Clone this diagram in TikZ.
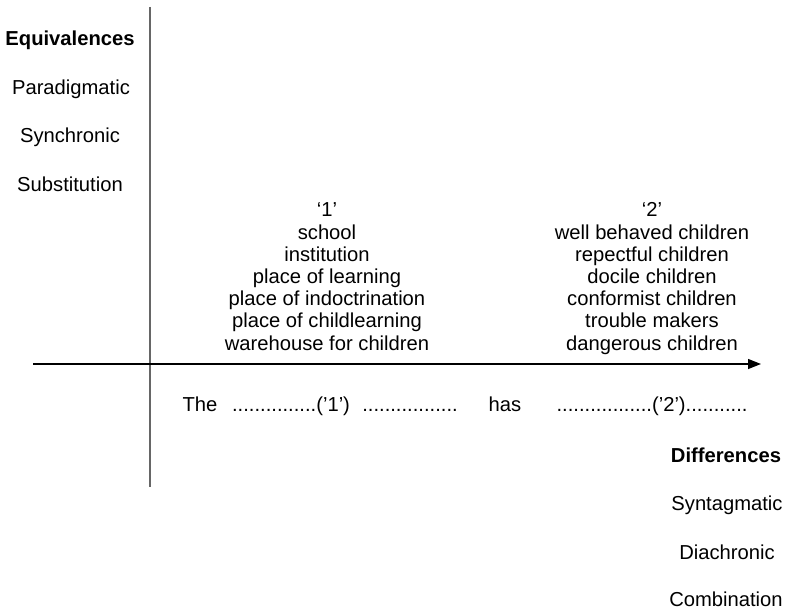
\documentclass[tikz,border=0pt]{standalone}
\usepackage{fontspec}
\setmainfont{Liberation Sans}
\usetikzlibrary{arrows.meta}
\begin{document}
\begin{tikzpicture}[x=1pt,y=-1pt,
  lbl/.style={inner sep=0pt,anchor=base,font=\fontsize{20.2}{22}\selectfont},
  head/.style={lbl,font=\fontsize{20.2}{22}\selectfont\bfseries},
  axis/.style={line width=1.4pt,black},
  vaxis/.style={line width=1.2pt,gray!80!black}]
\useasboundingbox (0,0) rectangle (787,610);

% axes
\coordinate (vtop) at (150,7);
\coordinate (vbot) at (150,487);
\coordinate (hleft) at (33,364);
\coordinate (hright) at (761,364);
\draw[vaxis] (vtop) -- (vbot);
\draw[axis,-{Triangle[length=13pt,width=10pt]}] (hleft) -- (hright);

% paradigmatic axis labels
\node[head] (equiv) at (70,46) {Equivalences};
\node[lbl] (para) at (71,94) {Paradigmatic};
\node[lbl] (sync) at (70,142) {Synchronic};
\node[lbl] (subs) at (70,191) {Substitution};

% syntagmatic axis labels
\node[head] (diff) at (726,462) {Differences};
\node[lbl] (synt) at (727,510) {Syntagmatic};
\node[lbl] (diach) at (727,559) {Diachronic};
\node[lbl] (comb) at (726,606.5) {Combination};

% slot 1 substitutes
\foreach \t [count=\i from 0] in {`1',school,institution,place of learning,place of indoctrination,place of childlearning,warehouse for children}
  \node[lbl] (one-\i) at (327,216.8+22.2*\i) {\t};

% slot 2 substitutes
\foreach \t [count=\i from 0] in {`2',well behaved children,repectful children,docile children,conformist children,trouble makers,dangerous children}
  \node[lbl] (two-\i) at (652,216.8+22.2*\i) {\t};

% the sentence frame
\node[lbl] (the) at (200,411) {The};
\node[lbl] (slot1) at (291,411) {...............('1')};
\node[lbl] (fill1) at (410,411) {.................};
\node[lbl] (has) at (505,411) {has};
\node[lbl] (slot2) at (652,411) {.................('2')...........};
\end{tikzpicture}
\end{document}
